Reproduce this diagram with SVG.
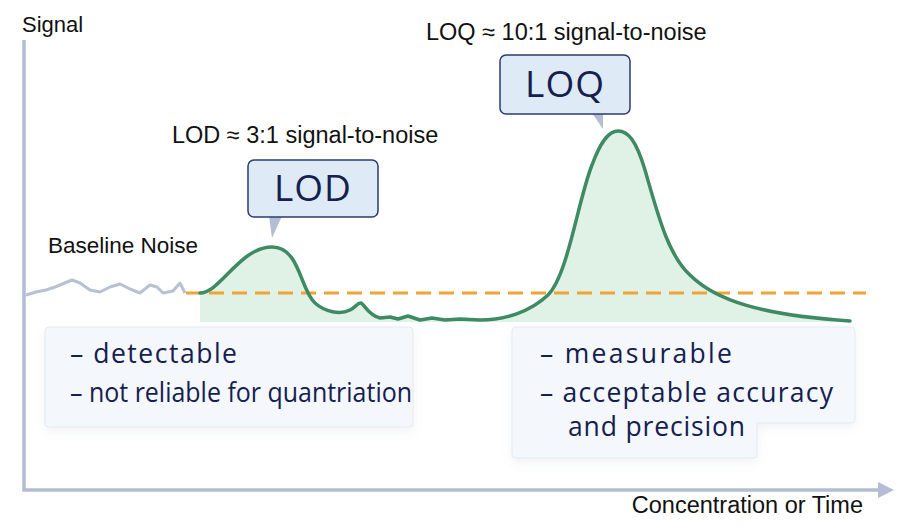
<svg xmlns="http://www.w3.org/2000/svg" width="900" height="528" viewBox="0 0 900 528">
<defs>
<style>
.lbl{font-family:"Liberation Sans",Arial,sans-serif;font-size:23.5px;fill:#111}
.tag{font-family:"Open Sans","Noto Sans",sans-serif;font-size:37px;fill:#15204f;text-anchor:middle;letter-spacing:1px}
.note{font-family:"Open Sans","Noto Sans",sans-serif;font-size:26.5px;fill:#15204f}
.callout{fill:#deebf7;stroke:#2d3b70;stroke-width:1.5}
.ptr{fill:#b4bed2}
.panel{fill:#f4f7fc;stroke:#e5e9f2;stroke-width:1}
.axis{stroke:#b5bcd3;stroke-width:3.5;fill:none}
</style>
<filter id="sh" x="-10%" y="-10%" width="120%" height="130%">
<feDropShadow dx="0" dy="4" stdDeviation="5" flood-color="#8090b0" flood-opacity="0.12"/>
</filter>
</defs>
<rect width="900" height="528" fill="#fff"/>
<g id="axes">
<path class="axis" d="M24,40 V490 H882"/>
<polygon points="878,482 894,490 878,498" fill="#b5bcd3"/>
<text class="lbl" x="22" y="32" style="font-size:22px">Signal</text>
<text class="lbl" x="863" y="513" text-anchor="end">Concentration or Time</text>
</g>
<g id="panels">
<rect id="lod-notes" class="panel" x="45" y="327" width="368" height="100" rx="4" filter="url(#sh)"/>
<path id="loq-notes" class="panel" filter="url(#sh)" d="M516,327 H851 Q855,327 855,331 V419 Q855,423 851,423 H757 V454 Q757,458 753,458 H516 Q512,458 512,454 V331 Q512,327 516,327 Z"/>
<text class="note" x="70" y="363" textLength="167" lengthAdjust="spacing">– detectable</text>
<text class="note" x="70" y="402" textLength="342" lengthAdjust="spacingAndGlyphs">– not reliable for quantriation</text>
<text class="note" x="540" y="363" textLength="192" lengthAdjust="spacing">– measurable</text>
<text class="note" x="540" y="402" textLength="293" lengthAdjust="spacing">– acceptable accuracy</text>
<text class="note" x="568" y="436" textLength="177" lengthAdjust="spacing">and precision</text>
</g>
<g id="baseline-noise">
<path d="M26,295 L36,292 L46,290 L55,287 L72,280 L80,283 L90,290 L100,292 L110,287 L120,284 L130,289 L140,293 L150,285 L157,287 L163,293 L173,291 L180,283 L185,293" fill="none" stroke="#b8c0d4" stroke-width="3" stroke-linejoin="round"/>
<text class="lbl" x="48" y="253" style="font-size:22.5px">Baseline Noise</text>
</g>
<g id="signal">
<path d="M200,293 C220,293 240,247 272,247 C300,247 300,290 315,303 C325,312 340,315 350,310 C356,307 358,302 361,303 C365,305 368,315 380,318 L390,317 L398,319 L408,316 L420,320 L432,318 L445,320 L460,319 L480,320 C505,320 530,312 548,295 C568,275 578,200 592,165 C602,138 610,131 618,131 C628,131 636,140 645,170 C658,215 668,255 690,275 C715,300 760,315 850,321 L850,322 L200,322 Z" fill="#e0f1e5"/>
<line x1="186" y1="293" x2="866" y2="293" stroke="#f0a435" stroke-width="3" stroke-dasharray="15 8"/>
<path d="M200,293 C220,293 240,247 272,247 C300,247 300,290 315,303 C325,312 340,315 350,310 C356,307 358,302 361,303 C365,305 368,315 380,318 L390,317 L398,319 L408,316 L420,320 L432,318 L445,320 L460,319 L480,320 C505,320 530,312 548,295 C568,275 578,200 592,165 C602,138 610,131 618,131 C628,131 636,140 645,170 C658,215 668,255 690,275 C715,300 760,315 850,321" fill="none" stroke="#3e8a62" stroke-width="3.5" stroke-linejoin="round" stroke-linecap="round"/>
</g>
<g id="lod">
<text class="lbl" x="172" y="143">LOD ≈ 3:1 signal-to-noise</text>
<polygon class="ptr" points="269,216 282,216 272,238"/>
<rect class="callout" x="248" y="160" width="130" height="57" rx="6"/>
<text class="tag" x="313" y="201">LOD</text>
</g>
<g id="loq">
<text class="lbl" x="426" y="40">LOQ ≈ 10:1 signal-to-noise</text>
<polygon class="ptr" points="592,113 603,113 603,129"/>
<rect class="callout" x="500" y="55" width="130" height="59" rx="6"/>
<text class="tag" x="565" y="97">LOQ</text>
</g>
</svg>
